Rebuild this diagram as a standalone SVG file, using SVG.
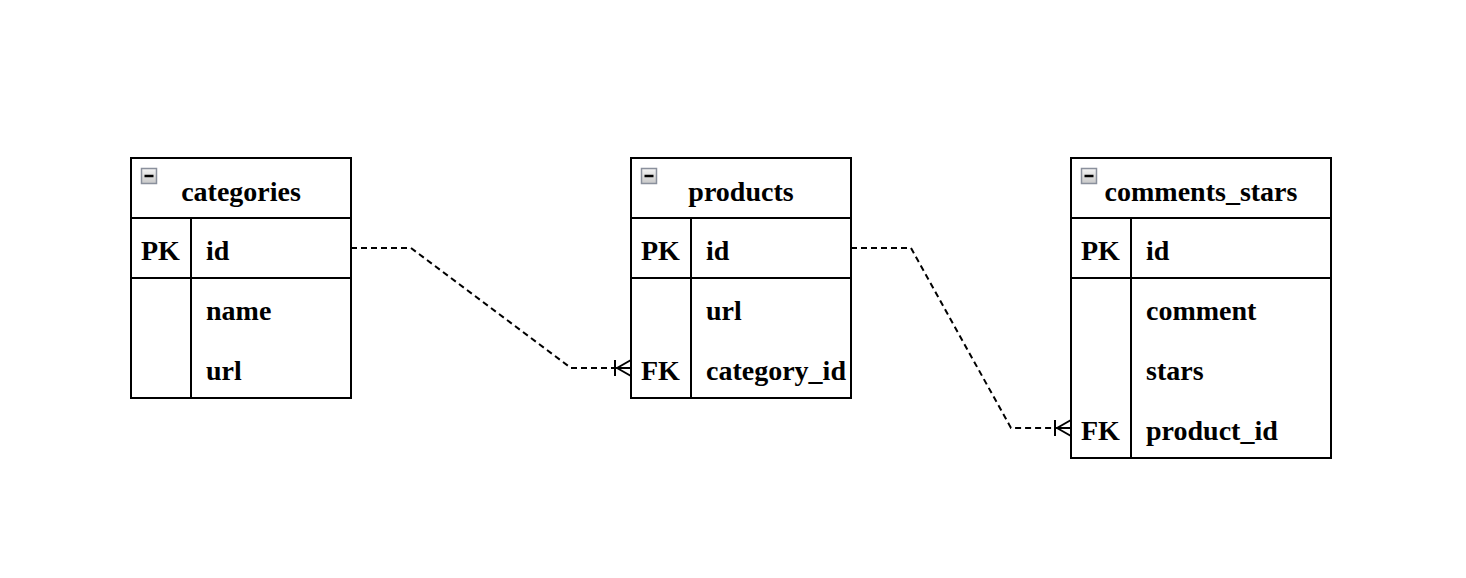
<svg xmlns="http://www.w3.org/2000/svg" width="1466" height="578" viewBox="0 0 1466 578">
<defs>
<linearGradient id="ig" x1="0" y1="0" x2="0" y2="1">
<stop offset="0" stop-color="#f4f4f4"/>
<stop offset="1" stop-color="#c8c8c8"/>
</linearGradient>
<g id="icon">
<rect x="0.5" y="0.5" width="15" height="15" fill="url(#ig)" stroke="#8a909c" stroke-width="1.5"/>
<line x1="3.5" y1="8" x2="12.5" y2="8" stroke="#000" stroke-width="2.5"/>
</g>
</defs>
<style>
.box{fill:#fff;stroke:#000;stroke-width:2}
.ln{stroke:#000;stroke-width:2;fill:none}
.t{font-family:"Liberation Serif","Times New Roman",serif;font-weight:bold;font-size:28px;fill:#000}
.c{text-anchor:middle}
.con{stroke:#000;stroke-width:2;fill:none;stroke-dasharray:6 4}
.cf{stroke:#000;stroke-width:2;fill:none}
</style>
<rect width="1466" height="578" fill="#fff"/>

<g id="connectors">
<polyline class="con" points="351,248 411,248 571,368 615,368"/>
<g class="cf">
<line x1="615" y1="360" x2="615" y2="376"/>
<line x1="615" y1="368" x2="631" y2="368"/>
<line x1="617" y1="368" x2="631" y2="360"/>
<line x1="617" y1="368" x2="631" y2="376"/>
</g>
<polyline class="con" points="851,248 911,248 1011,428 1055,428"/>
<g class="cf">
<line x1="1055" y1="420" x2="1055" y2="436"/>
<line x1="1055" y1="428" x2="1071" y2="428"/>
<line x1="1057" y1="428" x2="1071" y2="420"/>
<line x1="1057" y1="428" x2="1071" y2="436"/>
</g>
</g>

<g id="categories">
<rect class="box" x="131" y="158" width="220" height="240"/>
<line class="ln" x1="131" y1="218" x2="351" y2="218"/>
<line class="ln" x1="131" y1="278" x2="351" y2="278"/>
<line class="ln" x1="191" y1="218" x2="191" y2="398"/>
<use href="#icon" x="141" y="168"/>
<text class="t c" x="241" y="201">categories</text>
<text class="t" x="141" y="260">PK</text>
<text class="t" x="206" y="260">id</text>
<text class="t" x="206" y="320">name</text>
<text class="t" x="206" y="380">url</text>
</g>

<g id="products">
<rect class="box" x="631" y="158" width="220" height="240"/>
<line class="ln" x1="631" y1="218" x2="851" y2="218"/>
<line class="ln" x1="631" y1="278" x2="851" y2="278"/>
<line class="ln" x1="691" y1="218" x2="691" y2="398"/>
<use href="#icon" x="641" y="168"/>
<text class="t c" x="741" y="201">products</text>
<text class="t" x="641" y="260">PK</text>
<text class="t" x="706" y="260">id</text>
<text class="t" x="706" y="320">url</text>
<text class="t" x="641" y="380">FK</text>
<text class="t" x="706" y="380">category_id</text>
</g>

<g id="comments_stars">
<rect class="box" x="1071" y="158" width="260" height="300"/>
<line class="ln" x1="1071" y1="218" x2="1331" y2="218"/>
<line class="ln" x1="1071" y1="278" x2="1331" y2="278"/>
<line class="ln" x1="1131" y1="218" x2="1131" y2="458"/>
<use href="#icon" x="1081" y="168"/>
<text class="t c" x="1201" y="201">comments_stars</text>
<text class="t" x="1081" y="260">PK</text>
<text class="t" x="1146" y="260">id</text>
<text class="t" x="1146" y="320">comment</text>
<text class="t" x="1146" y="380">stars</text>
<text class="t" x="1081" y="440">FK</text>
<text class="t" x="1146" y="440">product_id</text>
</g>
</svg>
